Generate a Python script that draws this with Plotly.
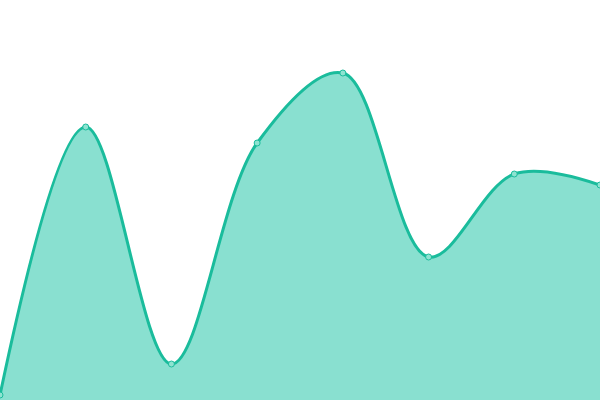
import plotly.graph_objects as go

x_vals = [0, 1, 2, 3, 4, 5, 6, 7]
y_vals = [1.25, 68.25, 9, 64.25, 81.75, 35.75, 56.5, 53.75]

fig = go.Figure()
fig.add_trace(go.Scatter(
    x=x_vals, y=y_vals, mode="lines+markers",
    fill="tozeroy", fillcolor="#89e0d0",
    line=dict(color="#1abc9c", width=3, shape="spline", smoothing=1.0),
    marker=dict(size=6, color="#8ee3d1", line=dict(color="#1abc9c", width=1)),
    cliponaxis=False,
    hoverinfo="skip",
))
fig.update_layout(
    width=600, height=400,
    margin=dict(l=0, r=0, t=0, b=0),
    paper_bgcolor="white", plot_bgcolor="white",
    showlegend=False,
    xaxis=dict(visible=False, range=[0, 7]),
    yaxis=dict(visible=False, range=[0, 100]),
)
fig.write_html("out.html",
               config={"displayModeBar": False, "staticPlot": True},
               post_script="document.body.style.margin='0';document.body.style.overflow='hidden';")
